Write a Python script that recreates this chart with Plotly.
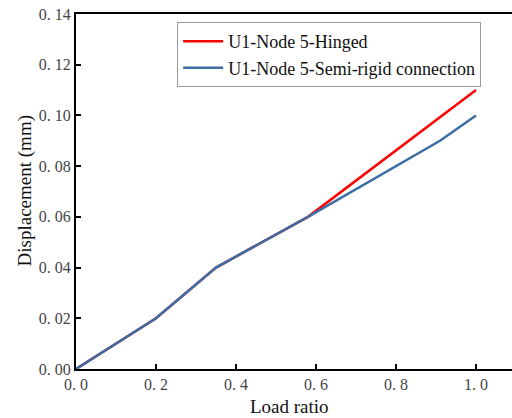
import plotly.graph_objects as go

load_hinged = [0.0, 0.2, 0.35, 0.58, 1.0]
disp_hinged = [0.0, 0.02, 0.04, 0.06, 0.11]
load_semi = [0.0, 0.2, 0.35, 0.58, 0.91, 1.0]
disp_semi = [0.0, 0.02, 0.04, 0.06, 0.09, 0.10]

x_tickvals = [0.0, 0.2, 0.4, 0.6, 0.8, 1.0]
x_ticktext = ["0. 0", "0. 2", "0. 4", "0. 6", "0. 8", "1. 0"]
y_tickvals = [0.0, 0.02, 0.04, 0.06, 0.08, 0.10, 0.12, 0.14]
y_ticktext = ["0. 00", "0. 02", "0. 04", "0. 06", "0. 08", "0. 10", "0. 12", "0. 14"]

font = "Liberation Serif, Times New Roman, serif"

fig = go.Figure()
fig.add_trace(go.Scatter(x=load_hinged, y=disp_hinged, mode="lines",
                         name="U1-Node 5-Hinged",
                         line=dict(color="#ff0000", width=2.5)))
fig.add_trace(go.Scatter(x=load_semi, y=disp_semi, mode="lines",
                         name="U1-Node 5-Semi-rigid connection",
                         line=dict(color="#3a6ea5", width=2.5)))

fig.update_layout(
    width=512, height=418,
    margin=dict(l=76, r=0, t=14, b=49, autoexpand=False),
    paper_bgcolor="white", plot_bgcolor="white",
    font=dict(family=font, size=16, color="#333"),
    showlegend=True,
    legend=dict(x=0.232, y=0.977, xanchor="left", yanchor="top",
                bordercolor="#999", borderwidth=1, bgcolor="white",
                font=dict(family=font, size=18, color="#111"),
                tracegroupgap=0, itemwidth=40, entrywidth=0),
    xaxis=dict(range=[0, 1.09], tickvals=x_tickvals, ticktext=x_ticktext,
               automargin=False,
               showgrid=False, zeroline=False, showline=True, linecolor="black",
               linewidth=2, mirror=True, ticks="inside", ticklen=5, tickwidth=2,
               tickcolor="black", tickfont=dict(family=font, size=16, color="#444")),
    yaxis=dict(range=[0, 0.14], tickvals=y_tickvals, ticktext=y_ticktext,
               automargin=False,
               showgrid=False, zeroline=False, showline=True, linecolor="black",
               linewidth=2, mirror=False, ticks="inside", ticklen=5, tickwidth=2,
               tickcolor="black", tickfont=dict(family=font, size=16, color="#444")),
    annotations=[
        dict(text="Load ratio", xref="paper", yref="paper", x=0.49, y=-0.107,
             xanchor="center", yanchor="middle", showarrow=False,
             font=dict(family=font, size=19, color="#111")),
        dict(text="Displacement (mm)", xref="paper", yref="paper", x=-0.117, y=0.503,
             xanchor="center", yanchor="middle", showarrow=False, textangle=-90,
             font=dict(family=font, size=19, color="#111")),
    ],
)

fig.write_html("out.html", config={"displayModeBar": False},
               post_script="document.body.style.margin='0';document.body.style.overflow='hidden';")
